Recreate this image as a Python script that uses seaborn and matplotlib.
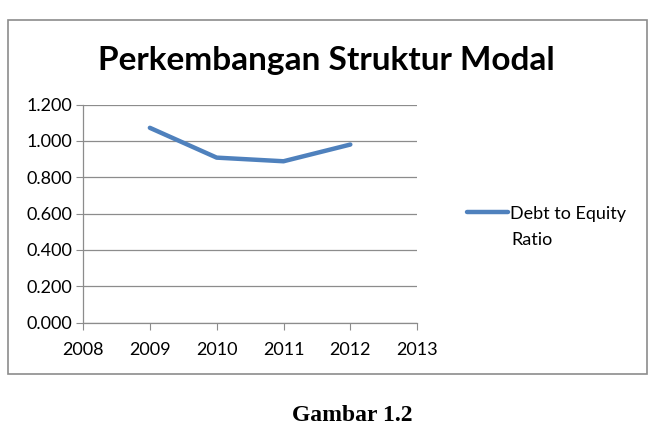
import matplotlib
matplotlib.use('Agg')
import matplotlib.pyplot as plt
import seaborn as sns
import pandas as pd
from matplotlib.patches import Rectangle

# Data
years = [2009, 2010, 2011, 2012]
der = [1.072, 0.908, 0.888, 0.980]
x_ticks = [2008, 2009, 2010, 2011, 2012, 2013]
y_ticks = [0.0, 0.2, 0.4, 0.6, 0.8, 1.0, 1.2]
series_name = 'Debt to Equity'
series_name_2 = 'Ratio'

df = pd.DataFrame({'year': years, 'value': der, 'series': series_name})

sns.set_style('white')
plt.rcParams['font.family'] = ['Lato', 'DejaVu Sans']
plt.rcParams['text.color'] = 'black'
plt.rcParams['xtick.color'] = 'black'
plt.rcParams['ytick.color'] = 'black'

fig = plt.figure(figsize=(6.59, 4.32), dpi=100)
ax = fig.add_axes([0.126, 0.253, 0.507, 0.505])

sns.lineplot(data=df, x='year', y='value', hue='series', palette=['#4F81BD'],
             linewidth=3.2, ax=ax, legend=True)

ax.set_xlim(2008, 2013)
ax.set_ylim(0, 1.2)
ax.set_xticks(x_ticks)
ax.set_yticks(y_ticks)
ax.set_yticklabels([f'{v:.3f}' for v in y_ticks])
ax.set_xlabel('')
ax.set_ylabel('')
ax.yaxis.grid(True, color='#8c8c8c', linewidth=0.9)
ax.xaxis.grid(False)
for side in ['top', 'right']:
    ax.spines[side].set_visible(False)
for side in ['left', 'bottom']:
    ax.spines[side].set_color('#8c8c8c')
    ax.spines[side].set_linewidth(0.9)
ax.tick_params(axis='both', which='major', labelsize=13, length=5,
               color='#8c8c8c', labelcolor='black', direction='out',
               left=True, bottom=True)
ax.tick_params(axis='x', pad=9)
ax.tick_params(axis='y', pad=3)
ax.set_axisbelow(True)

leg = ax.legend(loc='center left', bbox_to_anchor=(1.129, 0.5), frameon=False,
                fontsize=13, handlelength=2.27, handletextpad=0.1,
                borderaxespad=0)
for h in leg.get_lines():
    h.set_linewidth(3.2)
fig.text(511 / 659, 1 - 240 / 432, series_name_2, ha='left', va='center',
         fontsize=13)

fig.text(0.496, 0.861, 'Perkembangan Struktur Modal', ha='center', va='center',
         fontsize=24, fontweight='bold')

# chart border
fig.patches.append(Rectangle((8 / 659, 1 - 374 / 432), (647 - 8) / 659, (374 - 20) / 432,
                             transform=fig.transFigure, fill=False,
                             edgecolor='#8c8c8c', linewidth=1.2))

fig.text(0.534, 0.039, 'Gambar 1.2', ha='center', va='center', fontsize=17,
         fontweight='bold', family=['Liberation Serif', 'DejaVu Serif'])

fig.savefig('out.png', dpi=100)
